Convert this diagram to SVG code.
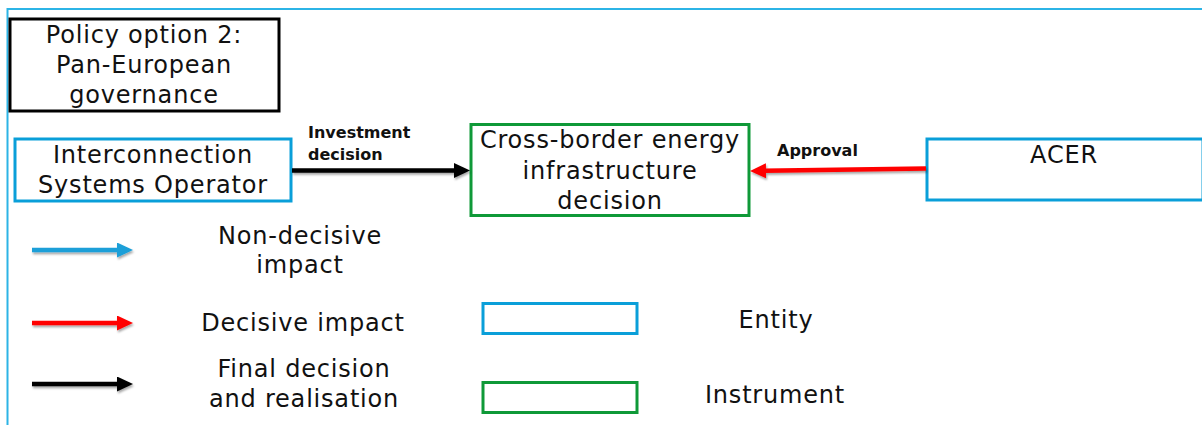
<svg xmlns="http://www.w3.org/2000/svg" width="1202" height="425" viewBox="0 0 1202 425">
<style>
  .t{font-family:"DejaVu Sans","Liberation Sans",sans-serif;font-size:24px;letter-spacing:0.8px;fill:#111;text-anchor:middle}
  .lb{font-family:"DejaVu Sans","Liberation Sans",sans-serif;font-size:16px;font-weight:bold;fill:#111}
  .ent{fill:#fff;stroke:#0a9fd9;stroke-width:3}
  .ins{fill:#fff;stroke:#0f9938;stroke-width:3}
  .arr{stroke-width:4.5;fill:none;filter:url(#sh)}
</style>
<defs>
  <filter id="sh" filterUnits="userSpaceOnUse" x="0" y="0" width="1202" height="425">
    <feDropShadow dx="1" dy="2" stdDeviation="1.2" flood-color="#000" flood-opacity="0.35"/>
  </filter>
  <marker id="mk" markerUnits="userSpaceOnUse" markerWidth="16" markerHeight="15" refX="2" refY="7.5" orient="auto"><path d="M0,0 L16,7.5 L0,15 Z" fill="#000"/></marker>
  <marker id="mr" markerUnits="userSpaceOnUse" markerWidth="16" markerHeight="15" refX="2" refY="7.5" orient="auto"><path d="M0,0 L16,7.5 L0,15 Z" fill="#ff0000"/></marker>
  <marker id="mb" markerUnits="userSpaceOnUse" markerWidth="16" markerHeight="15" refX="2" refY="7.5" orient="auto"><path d="M0,0 L16,7.5 L0,15 Z" fill="#1a9fd8"/></marker>
</defs>
<rect width="1202" height="425" fill="#fff"/>
<rect x="7.5" y="9" width="1220" height="440" fill="none" stroke="#2cb4e6" stroke-width="2"/>

<g id="title">
  <rect x="10" y="19" width="269" height="92" fill="#fff" stroke="#000" stroke-width="3"/>
  <text class="t" x="144" y="43">Policy option 2:</text>
  <text class="t" x="144" y="73">Pan-European</text>
  <text class="t" x="144" y="103">governance</text>
</g>

<g id="iso">
  <rect class="ent" x="15" y="139" width="276" height="62"/>
  <text class="t" x="153" y="163">Interconnection</text>
  <text class="t" x="153" y="193">Systems Operator</text>
</g>

<g id="decision">
  <rect class="ins" x="471" y="124.5" width="278" height="91"/>
  <text class="t" x="610" y="148">Cross-border energy</text>
  <text class="t" x="610" y="179">infrastructure</text>
  <text class="t" x="610" y="209">decision</text>
</g>

<g id="acer">
  <rect class="ent" x="927" y="139" width="276" height="61"/>
  <text class="t" x="1064" y="163">ACER</text>
</g>

<g id="connectors">
  <line class="arr" x1="292" y1="170.5" x2="456" y2="170.5" stroke="#000" marker-end="url(#mk)"/>
  <text class="lb" x="308" y="138">Investment</text>
  <text class="lb" x="308" y="160">decision</text>
  <line class="arr" x1="926" y1="168.5" x2="764" y2="170.8" stroke="#ff0000" marker-end="url(#mr)"/>
  <text class="lb" x="777" y="156">Approval</text>
</g>

<g id="legend">
  <line class="arr" x1="32" y1="250" x2="119" y2="250" stroke="#1a9fd8" marker-end="url(#mb)"/>
  <text class="t" x="300" y="244">Non-decisive</text>
  <text class="t" x="300" y="273">impact</text>
  <line class="arr" x1="32" y1="323" x2="119" y2="323" stroke="#ff0000" marker-end="url(#mr)"/>
  <text class="t" x="303" y="331">Decisive impact</text>
  <line class="arr" x1="32" y1="384" x2="119" y2="384" stroke="#000" marker-end="url(#mk)"/>
  <text class="t" x="304" y="377">Final decision</text>
  <text class="t" x="304" y="407">and realisation</text>
  <rect class="ent" x="483" y="303.5" width="154" height="30"/>
  <text class="t" x="776" y="328">Entity</text>
  <rect class="ins" x="483" y="382.5" width="154" height="30"/>
  <text class="t" x="775" y="403">Instrument</text>
</g>
</svg>
